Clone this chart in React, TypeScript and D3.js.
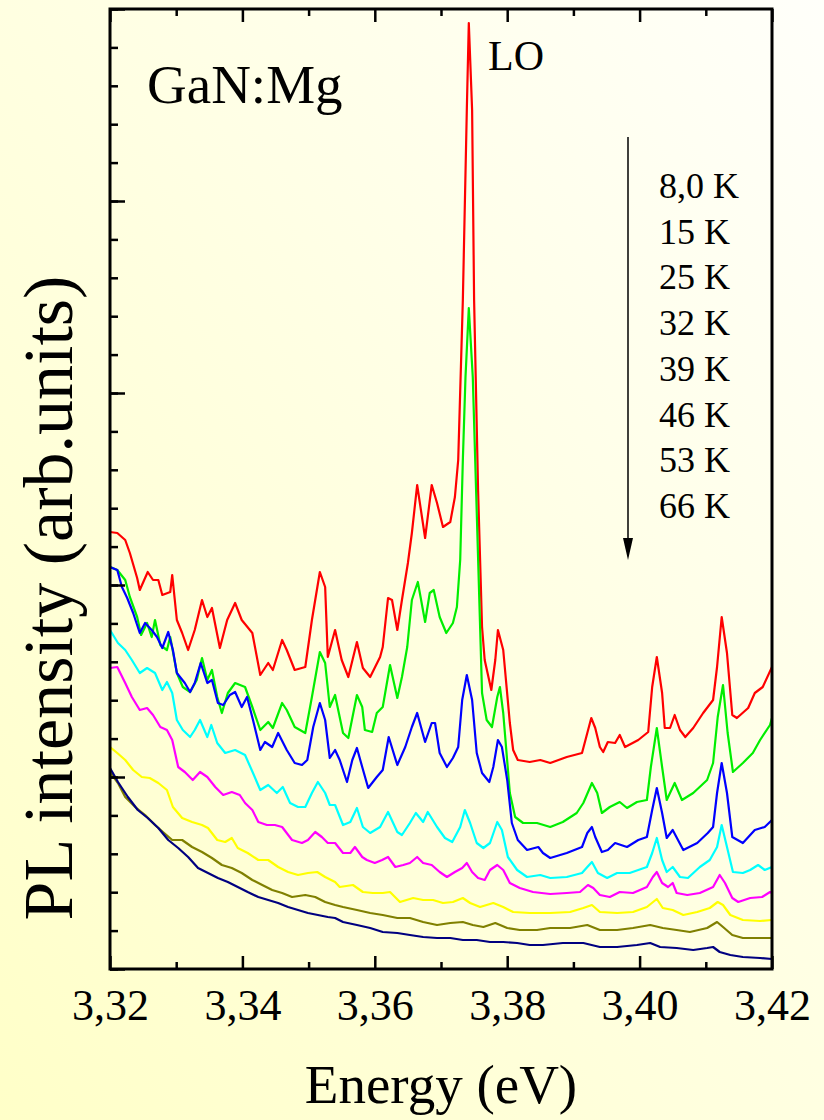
import React, { Component } from "react";
import * as d3 from "d3";

// energy axis ticks (eV)
const energyTicks = [3.32, 3.34, 3.36, 3.38, 3.4, 3.42];
const energyMinorTicks = [3.33, 3.35, 3.37, 3.39, 3.41];

// legend text, top to bottom
const temperatures = ["8,0 K", "15 K", "25 K", "32 K", "39 K", "46 K", "53 K", "66 K"];
const colors = ["#ff0000", "#00ee00", "#0000ff", "#00ffff", "#ff00ff", "#ffff00", "#808000", "#000080"];

// PL spectra, [energy (eV), intensity (arb. units)]
const t8K = [
  [3.32, 437], [3.3211, 436], [3.3223, 429], [3.323, 416], [3.3241, 391], [3.3245, 379], [3.3257, 397], [3.3265, 389],
  [3.3273, 389], [3.3279, 374], [3.3291, 377], [3.3294, 394], [3.3301, 349], [3.3309, 336], [3.3318, 319], [3.3328, 339],
  [3.3339, 369], [3.3347, 352], [3.3354, 361], [3.3366, 321], [3.3377, 349], [3.3389, 366], [3.3399, 349], [3.3415, 336],
  [3.3427, 294], [3.3439, 306], [3.3446, 299], [3.346, 329], [3.3467, 319], [3.3479, 299], [3.3495, 302], [3.3505, 349],
  [3.3517, 397], [3.3525, 382], [3.3529, 312], [3.354, 339], [3.355, 309], [3.356, 292], [3.3573, 327], [3.3582, 301],
  [3.3593, 292], [3.3608, 312], [3.3612, 322], [3.362, 371], [3.3626, 369], [3.3634, 339], [3.3641, 369], [3.365, 406],
  [3.3656, 436], [3.3664, 484], [3.3676, 431], [3.3686, 484], [3.3694, 466], [3.3703, 442], [3.3714, 447], [3.3721, 472],
  [3.3726, 509], [3.3733, 669], [3.3739, 859], [3.3742, 946], [3.3747, 859], [3.375, 669], [3.3756, 479], [3.3762, 342],
  [3.3766, 309], [3.3776, 279], [3.3782, 309], [3.3786, 339], [3.3794, 319], [3.3804, 246], [3.3809, 219], [3.3816, 209],
  [3.3834, 207], [3.385, 209], [3.3865, 206], [3.389, 212], [3.3913, 216], [3.3921, 236], [3.3927, 251], [3.3933, 241],
  [3.394, 222], [3.3945, 217], [3.3952, 227], [3.3963, 226], [3.397, 234], [3.3978, 222], [3.3998, 229], [3.4013, 237],
  [3.4019, 282], [3.4026, 312], [3.4034, 276], [3.4038, 241], [3.4046, 241], [3.4053, 254], [3.4061, 239], [3.4069, 232],
  [3.4081, 241], [3.4096, 256], [3.4111, 269], [3.4117, 302], [3.4124, 352], [3.4132, 316], [3.414, 254], [3.4147, 251],
  [3.4164, 261], [3.4174, 276], [3.4186, 282], [3.42, 302],
];
const t15K = [
  [3.32, 402], [3.3211, 399], [3.3223, 389], [3.323, 372], [3.3241, 352], [3.3247, 334], [3.3256, 346], [3.3263, 332],
  [3.3268, 349], [3.3276, 324], [3.3286, 319], [3.3291, 332], [3.3301, 296], [3.331, 282], [3.3321, 277], [3.3331, 289],
  [3.3339, 311], [3.3347, 289], [3.3354, 299], [3.3362, 272], [3.3369, 256], [3.3378, 276], [3.3389, 286], [3.3404, 282],
  [3.3415, 262], [3.3427, 239], [3.3439, 247], [3.3446, 241], [3.346, 266], [3.3467, 259], [3.3479, 242], [3.3495, 236],
  [3.3505, 272], [3.3517, 317], [3.3525, 306], [3.3532, 262], [3.354, 274], [3.3552, 236], [3.356, 231], [3.3573, 274],
  [3.3581, 262], [3.3585, 239], [3.3596, 237], [3.3603, 256], [3.3612, 262], [3.3623, 304], [3.3634, 271], [3.3641, 292],
  [3.3649, 322], [3.3656, 369], [3.3665, 387], [3.3676, 347], [3.3683, 376], [3.3689, 379], [3.3698, 352], [3.3708, 336],
  [3.3718, 346], [3.3724, 362], [3.3729, 409], [3.3733, 509], [3.3737, 592], [3.3742, 661], [3.3748, 592], [3.3753, 479],
  [3.3762, 276], [3.3769, 249], [3.3777, 242], [3.3785, 272], [3.3789, 282], [3.3794, 256], [3.3804, 176], [3.3812, 152],
  [3.3824, 146], [3.3845, 146], [3.3865, 142], [3.3884, 147], [3.3905, 156], [3.3915, 166], [3.3928, 186], [3.3936, 176],
  [3.3943, 156], [3.3955, 162], [3.397, 167], [3.3981, 161], [3.3996, 167], [3.4011, 169], [3.4017, 202], [3.4026, 241],
  [3.4034, 202], [3.4041, 169], [3.4053, 186], [3.4064, 169], [3.4081, 176], [3.4102, 189], [3.4111, 206], [3.4118, 252],
  [3.4126, 284], [3.4133, 236], [3.4141, 197], [3.4156, 206], [3.4171, 216], [3.4182, 229], [3.4197, 244], [3.42, 251],
];
const t25K = [
  [3.32, 402], [3.3211, 399], [3.3218, 382], [3.3226, 371], [3.3235, 356], [3.3245, 336], [3.3253, 346], [3.3263, 339],
  [3.3271, 332], [3.3279, 321], [3.3288, 337], [3.3295, 319], [3.3301, 296], [3.3313, 286], [3.3321, 277], [3.3328, 286],
  [3.3337, 306], [3.3347, 286], [3.3354, 289], [3.3363, 266], [3.3371, 264], [3.3381, 274], [3.3389, 277], [3.3399, 262],
  [3.3407, 272], [3.3416, 249], [3.3427, 219], [3.3434, 227], [3.3445, 222], [3.3454, 236], [3.3467, 219], [3.3479, 206],
  [3.349, 204], [3.3498, 209], [3.3507, 242], [3.3517, 266], [3.3525, 249], [3.3532, 211], [3.354, 219], [3.3547, 209],
  [3.3558, 187], [3.3566, 209], [3.3573, 221], [3.3581, 202], [3.359, 181], [3.3603, 192], [3.3612, 199], [3.3621, 232],
  [3.3634, 204], [3.3646, 222], [3.3656, 242], [3.3664, 256], [3.3676, 227], [3.3686, 246], [3.3691, 246], [3.3698, 216],
  [3.3709, 202], [3.3718, 211], [3.3726, 222], [3.3732, 269], [3.3739, 294], [3.3747, 269], [3.3754, 216], [3.3762, 196],
  [3.3773, 187], [3.3779, 202], [3.3786, 229], [3.3792, 222], [3.38, 189], [3.3807, 146], [3.3816, 129], [3.383, 119],
  [3.3847, 122], [3.3854, 116], [3.3865, 111], [3.389, 116], [3.3913, 122], [3.3921, 136], [3.3928, 142], [3.3933, 132],
  [3.3943, 117], [3.3952, 119], [3.3963, 126], [3.3981, 122], [3.3998, 129], [3.4011, 132], [3.4019, 159], [3.4026, 181],
  [3.4034, 156], [3.4041, 131], [3.405, 139], [3.4066, 119], [3.4087, 126], [3.4103, 136], [3.4111, 142], [3.4117, 176],
  [3.4124, 206], [3.4132, 176], [3.414, 132], [3.4156, 126], [3.4174, 139], [3.4189, 142], [3.42, 149],
];
const t32K = [
  [3.32, 339], [3.3212, 326], [3.3223, 319], [3.3233, 309], [3.3245, 296], [3.3256, 301], [3.3268, 296], [3.3279, 279],
  [3.3286, 287], [3.3294, 276], [3.3301, 249], [3.331, 239], [3.3321, 232], [3.3328, 239], [3.3336, 249], [3.3347, 232],
  [3.3353, 244], [3.3362, 226], [3.3374, 216], [3.3389, 219], [3.3404, 214], [3.3416, 196], [3.3427, 179], [3.3439, 184],
  [3.3452, 176], [3.3461, 182], [3.3472, 166], [3.3484, 162], [3.3495, 162], [3.3505, 176], [3.3514, 187], [3.3525, 176],
  [3.3532, 164], [3.354, 164], [3.3552, 144], [3.3563, 147], [3.3573, 161], [3.3582, 142], [3.3593, 136], [3.3608, 142],
  [3.362, 157], [3.3634, 137], [3.3641, 134], [3.3653, 146], [3.3662, 156], [3.3673, 147], [3.368, 157], [3.3694, 142],
  [3.3706, 131], [3.3717, 127], [3.3729, 142], [3.3736, 159], [3.3744, 146], [3.3754, 126], [3.3764, 121], [3.3774, 126],
  [3.3785, 147], [3.3792, 139], [3.3801, 112], [3.3815, 99], [3.383, 92], [3.385, 94], [3.3865, 91], [3.389, 92],
  [3.3913, 96], [3.3921, 102], [3.3928, 107], [3.3937, 96], [3.3951, 91], [3.3966, 96], [3.3985, 96], [3.4011, 102],
  [3.4019, 116], [3.4026, 131], [3.4034, 109], [3.4041, 97], [3.405, 102], [3.4061, 92], [3.4073, 91], [3.4091, 102],
  [3.4106, 109], [3.4117, 122], [3.4124, 144], [3.4132, 122], [3.4141, 97], [3.4156, 96], [3.4167, 99], [3.4179, 104],
  [3.4189, 99], [3.42, 102],
];
const t39K = [
  [3.32, 301], [3.3211, 302], [3.3223, 286], [3.3233, 272], [3.3245, 259], [3.3256, 261], [3.3265, 254], [3.3276, 242],
  [3.3286, 239], [3.3294, 229], [3.3303, 202], [3.3313, 197], [3.3325, 189], [3.3336, 197], [3.3347, 192], [3.3359, 182],
  [3.3371, 174], [3.3384, 177], [3.3396, 174], [3.3404, 166], [3.3415, 159], [3.3424, 147], [3.3437, 144], [3.3449, 144],
  [3.346, 142], [3.3475, 129], [3.349, 126], [3.3499, 129], [3.351, 137], [3.352, 132], [3.3529, 126], [3.354, 126],
  [3.3552, 116], [3.3563, 116], [3.357, 122], [3.3581, 112], [3.3588, 109], [3.36, 106], [3.3611, 109], [3.362, 112],
  [3.3631, 102], [3.3643, 104], [3.3653, 106], [3.3664, 112], [3.3673, 106], [3.3686, 104], [3.3698, 97], [3.3709, 92],
  [3.3721, 97], [3.3732, 101], [3.3739, 106], [3.3747, 97], [3.3756, 91], [3.3766, 89], [3.3774, 99], [3.3785, 104],
  [3.3794, 99], [3.3804, 86], [3.3819, 81], [3.3839, 77], [3.3865, 75], [3.389, 76], [3.391, 77], [3.3922, 84],
  [3.393, 81], [3.394, 74], [3.3955, 72], [3.397, 77], [3.399, 76], [3.4011, 82], [3.402, 92], [3.4026, 97],
  [3.4034, 86], [3.4043, 82], [3.405, 86], [3.4056, 76], [3.4072, 74], [3.4091, 76], [3.4111, 82], [3.4121, 94],
  [3.4129, 86], [3.414, 71], [3.4149, 67], [3.4167, 71], [3.4185, 72], [3.4197, 77], [3.42, 76],
];
const t46K = [
  [3.32, 222], [3.3211, 216], [3.3223, 209], [3.3235, 199], [3.3248, 192], [3.326, 191], [3.3273, 186], [3.3286, 179],
  [3.3295, 162], [3.3309, 151], [3.3324, 147], [3.3339, 144], [3.3348, 141], [3.3362, 129], [3.3374, 127], [3.3384, 131],
  [3.3393, 121], [3.3408, 116], [3.3424, 109], [3.3439, 109], [3.3454, 102], [3.3469, 97], [3.3484, 94], [3.3499, 96],
  [3.3513, 97], [3.3525, 92], [3.354, 87], [3.3547, 82], [3.3567, 84], [3.3582, 77], [3.3597, 76], [3.3612, 76],
  [3.3623, 77], [3.3638, 67], [3.3658, 71], [3.3673, 69], [3.3688, 69], [3.3703, 66], [3.3718, 67], [3.3733, 71],
  [3.3744, 66], [3.3759, 62], [3.3779, 66], [3.3794, 62], [3.3809, 57], [3.3834, 56], [3.3865, 56], [3.3895, 57],
  [3.3915, 61], [3.3928, 64], [3.394, 57], [3.3966, 56], [3.399, 57], [3.4011, 62], [3.4026, 70], [3.4035, 61],
  [3.405, 59], [3.4066, 54], [3.4087, 57], [3.4106, 61], [3.4118, 67], [3.4126, 64], [3.4137, 54], [3.4156, 49],
  [3.4182, 48], [3.42, 49],
];
const t53K = [
  [3.32, 197], [3.3212, 186], [3.3223, 172], [3.3238, 162], [3.3253, 154], [3.3268, 144], [3.328, 137], [3.3294, 129],
  [3.3309, 129], [3.3324, 122], [3.3339, 117], [3.3354, 111], [3.3369, 104], [3.3384, 101], [3.3399, 96], [3.3415, 89],
  [3.343, 84], [3.3445, 79], [3.346, 76], [3.3475, 72], [3.3495, 74], [3.351, 72], [3.3525, 67], [3.354, 64],
  [3.3552, 62], [3.3573, 59], [3.3593, 56], [3.3612, 54], [3.3634, 51], [3.3653, 51], [3.3673, 47], [3.3694, 44],
  [3.3714, 46], [3.3733, 47], [3.3748, 44], [3.3764, 42], [3.3782, 46], [3.38, 41], [3.3819, 39], [3.3845, 39],
  [3.3865, 41], [3.3895, 41], [3.3921, 44], [3.394, 39], [3.3966, 39], [3.399, 41], [3.4016, 44], [3.4035, 41],
  [3.4056, 39], [3.4076, 37], [3.4102, 41], [3.4117, 47], [3.4126, 42], [3.414, 34], [3.4156, 31], [3.4182, 31],
  [3.42, 31],
];
const t66K = [
  [3.32, 201], [3.3212, 187], [3.3227, 172], [3.3242, 159], [3.3257, 151], [3.3273, 141], [3.3288, 129], [3.3303, 121],
  [3.3318, 112], [3.3333, 101], [3.3348, 96], [3.3363, 91], [3.3378, 87], [3.3393, 82], [3.3408, 77], [3.3424, 72],
  [3.3439, 69], [3.3454, 66], [3.3469, 62], [3.3484, 59], [3.3499, 56], [3.3514, 54], [3.3529, 52], [3.354, 51],
  [3.3552, 47], [3.3573, 44], [3.3593, 41], [3.3612, 37], [3.3634, 36], [3.3653, 34], [3.3673, 32], [3.3694, 31],
  [3.3714, 31], [3.3733, 29], [3.3754, 29], [3.3774, 27], [3.3794, 27], [3.3815, 26], [3.3834, 24], [3.3854, 24],
  [3.3884, 26], [3.3915, 26], [3.394, 22], [3.3966, 22], [3.3996, 24], [3.4016, 26], [3.4031, 22], [3.4056, 21],
  [3.4081, 19], [3.4102, 21], [3.4111, 22], [3.4121, 17], [3.4137, 14], [3.4156, 12], [3.4182, 11], [3.42, 10],
];

const spectra = [t8K, t15K, t25K, t32K, t39K, t46K, t53K, t66K];

const FONT = "'Liberation Serif', 'Times New Roman', serif";

class App extends Component {
  constructor(props) {
    super(props);
    this.svgRef = React.createRef();
  }

  componentDidMount() {
    const W = 824, H = 1120;
    const left = 110, right = 772, top = 9, bottom = 969;

    const svg = d3.select(this.svgRef.current);
    svg.selectAll("*").remove();

    const x = d3.scaleLinear().domain([3.32, 3.42]).range([left, right]);
    const y = d3.scaleLinear().domain([0, 960]).range([bottom, top]);

    // yellowish backdrop
    const defs = svg.append("defs");
    const grad = defs.append("linearGradient").attr("id", "bg")
      .attr("x1", "0").attr("y1", "1").attr("x2", "1").attr("y2", "0");
    grad.append("stop").attr("offset", "0%").attr("stop-color", "#ffffc8");
    grad.append("stop").attr("offset", "100%").attr("stop-color", "#fffffa");
    svg.append("rect").attr("width", W).attr("height", H).attr("fill", "url(#bg)");

    defs.append("clipPath").attr("id", "plotClip").append("rect")
      .attr("x", left).attr("y", top).attr("width", right - left).attr("height", bottom - top);

    // spectra, 8 K first, 66 K drawn last (on top)
    const line = d3.line().x((d) => x(d[0])).y((d) => y(d[1]));
    svg.append("g").attr("clip-path", "url(#plotClip)")
      .selectAll("path")
      .data(spectra)
      .join("path")
      .attr("d", line)
      .attr("fill", "none")
      .attr("stroke", (d, i) => colors[i])
      .attr("stroke-width", 2.2)
      .attr("stroke-linejoin", "round");

    const comma = d3.formatLocale({ decimal: ",", thousands: ".", grouping: [3], currency: ["", ""] }).format(".2f");

    const addAxis = (axis, transform) => {
      const g = svg.append("g").attr("transform", transform).call(axis);
      g.select(".domain").remove();
      g.selectAll("line").attr("stroke", "#000").attr("stroke-width", 2.5);
      g.attr("font-family", FONT).attr("font-size", 44);
      g.selectAll("text").attr("fill", "#000");
      return g;
    };

    // bottom / top energy ticks (inward)
    addAxis(d3.axisBottom(x).tickValues(energyTicks).tickSize(-13).tickPadding(20).tickFormat(comma), `translate(0,${bottom})`);
    addAxis(d3.axisBottom(x).tickValues(energyMinorTicks).tickSize(-7).tickFormat(() => ""), `translate(0,${bottom})`);
    addAxis(d3.axisTop(x).tickValues(energyTicks).tickSize(-13).tickFormat(() => ""), `translate(0,${top})`);
    addAxis(d3.axisTop(x).tickValues(energyMinorTicks).tickSize(-7).tickFormat(() => ""), `translate(0,${top})`);

    // intensity ticks, no labels
    const yMinor = d3.range(26).map((i) => i * 38.4);
    const yMajor = d3.range(6).map((i) => i * 192);
    addAxis(d3.axisLeft(y).tickValues(yMinor).tickSize(-8).tickFormat(() => ""), `translate(${left},0)`);
    addAxis(d3.axisLeft(y).tickValues(yMajor).tickSize(-15).tickFormat(() => ""), `translate(${left},0)`);

    // frame
    svg.append("rect")
      .attr("x", left).attr("y", top)
      .attr("width", right - left).attr("height", bottom - top)
      .attr("fill", "none").attr("stroke", "#000").attr("stroke-width", 3);

    // annotations
    svg.append("text").attr("x", 147).attr("y", 103)
      .attr("font-family", FONT).attr("font-size", 55).text("GaN:Mg");
    svg.append("text").attr("x", 488).attr("y", 70)
      .attr("font-family", FONT).attr("font-size", 42).text("LO");

    svg.append("g").selectAll("text")
      .data(temperatures)
      .join("text")
      .attr("x", 659)
      .attr("y", (d, i) => 198 + i * 45.7)
      .attr("font-family", FONT)
      .attr("font-size", 36)
      .text((d) => d);

    // arrow down the temperature list
    svg.append("line").attr("x1", 628).attr("x2", 628).attr("y1", 137).attr("y2", 545)
      .attr("stroke", "#000").attr("stroke-width", 1.5);
    svg.append("path").attr("d", "M623,538 L633,538 L628,560 Z").attr("fill", "#000");

    // axis titles
    svg.append("text").attr("x", (left + right) / 2).attr("y", 1103)
      .attr("text-anchor", "middle").attr("font-family", FONT).attr("font-size", 55)
      .text("Energy (eV)");
    svg.append("text").attr("transform", "translate(72,598) rotate(-90)")
      .attr("text-anchor", "middle").attr("font-family", FONT).attr("font-size", 70)
      .text("PL intensity (arb.units)");
  }

  render() {
    return (
      <svg ref={this.svgRef} width={824} height={1120}
        style={{ position: "absolute", left: 0, top: 0, display: "block" }} />
    );
  }
}

export default App;
